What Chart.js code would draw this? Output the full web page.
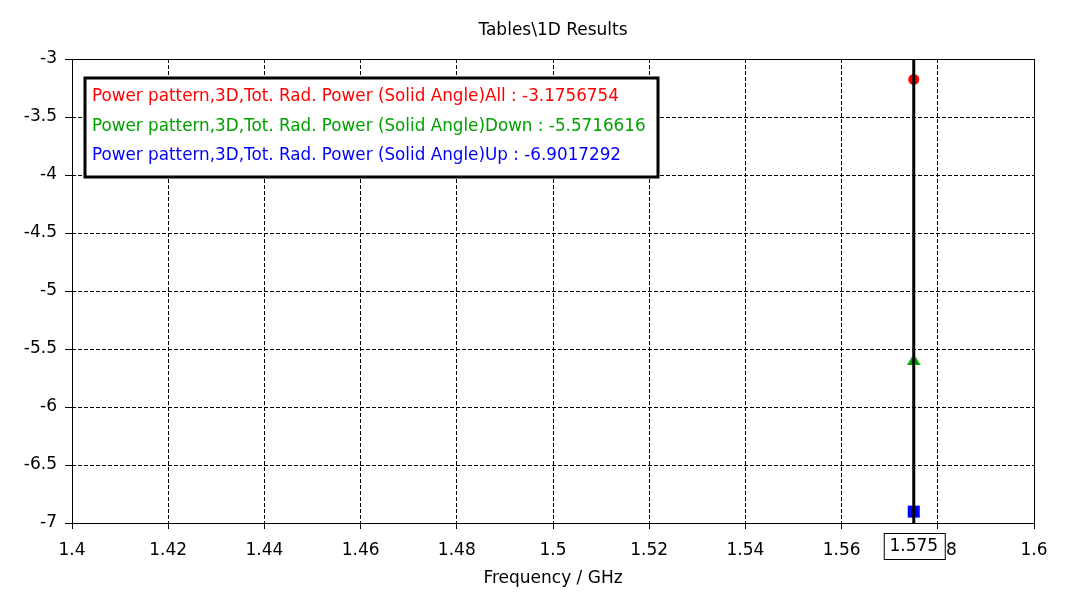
<!DOCTYPE html>
<html>
<head>
<meta charset="utf-8">
<script src="https://cdn.jsdelivr.net/npm/chart.js@4/dist/chart.umd.min.js"></script>
<style>
  html, body { margin: 0; padding: 0; background: #fff; }
  #wrap { width: 1078px; height: 593px; }
</style>
</head>
<body>
<div id="wrap"><canvas id="chart" width="1078" height="593"></canvas></div>
<script>
// values
const markerFreq = 1.575;
const seriesNames = [
  'Power pattern,3D,Tot. Rad. Power (Solid Angle)All',
  'Power pattern,3D,Tot. Rad. Power (Solid Angle)Down',
  'Power pattern,3D,Tot. Rad. Power (Solid Angle)Up'
];
const seriesValues = [-3.1756754, -5.5716616, -6.9017292];
const seriesColors = ['#ff0000', '#00a000', '#0000ff'];
const xRange = [1.4, 1.6];
const yRange = [-7, -3];

const FONT = '"DejaVu Sans", Verdana, sans-serif';
const FSIZE = 17;

// triangle marker sits a bit below its value in the original, so draw it as a small image
const triImg = document.createElement('canvas');
triImg.width = 14;
triImg.height = 16;
(function () {
  const c = triImg.getContext('2d');
  c.fillStyle = seriesColors[1];
  c.beginPath();
  c.moveTo(7, 4.5);
  c.lineTo(0, 16);
  c.lineTo(14, 16);
  c.closePath();
  c.fill();
})();

const seriesShapes = ['circle', triImg, 'rect'];
const seriesSizes = [5.5, 7.5, 8.5];

// one dataset per marker (drawn under the marker line)
const pointSets = seriesValues.map((v, i) => ({
  label: seriesNames[i],
  data: [{ x: markerFreq, y: v }],
  pointStyle: seriesShapes[i],
  pointRadius: seriesSizes[i],
  pointHoverRadius: seriesSizes[i],
  backgroundColor: seriesColors[i],
  borderColor: seriesColors[i],
  borderWidth: 0,
  showLine: false,
  order: 1
}));

// the vertical marker line
const markerLine = {
  label: 'marker',
  data: [{ x: markerFreq, y: yRange[0] }, { x: markerFreq, y: yRange[1] }],
  showLine: true,
  borderColor: '#000',
  borderWidth: 3,
  pointRadius: 0,
  order: 0
};

const framePlugin = {
  id: 'frame',
  afterDraw(chart) {
    const ctx = chart.ctx;
    const a = chart.chartArea;
    ctx.save();
    // plot frame
    ctx.strokeStyle = '#000';
    ctx.lineWidth = 1;
    ctx.strokeRect(a.left + 0.5, a.top + 0.5, a.right - a.left, a.bottom - a.top);

    // title
    ctx.fillStyle = '#000';
    ctx.font = FSIZE + 'px ' + FONT;
    ctx.textAlign = 'center';
    ctx.textBaseline = 'middle';
    ctx.fillText('Tables\\1D Results', (a.left + a.right) / 2, 31);

    // legend box
    const bx = a.left + 13, by = a.top + 19, bw = 573, bh = 99;
    ctx.fillStyle = '#fff';
    ctx.fillRect(bx, by, bw, bh);
    ctx.lineWidth = 3;
    ctx.strokeStyle = '#000';
    ctx.strokeRect(bx, by, bw, bh);
    ctx.font = '16.8px ' + FONT;
    ctx.textAlign = 'left';
    seriesNames.forEach((n, i) => {
      ctx.fillStyle = seriesColors[i];
      ctx.fillText(n + ' : ' + seriesValues[i].toFixed(7), bx + 7, by + 19 + i * 29.5);
    });

    // marker value box under the x axis
    const mx = chart.scales.x.getPixelForValue(markerFreq);
    ctx.font = FSIZE + 'px ' + FONT;
    ctx.fillStyle = '#fff';
    ctx.fillRect(mx - 30, a.bottom + 10, 61, 26);
    ctx.lineWidth = 1;
    ctx.strokeStyle = '#000';
    ctx.strokeRect(mx - 30 + 0.5, a.bottom + 10.5, 61, 26);
    ctx.fillStyle = '#000';
    ctx.textAlign = 'center';
    ctx.fillText(String(markerFreq), mx, a.bottom + 24);
    ctx.restore();
  }
};

new Chart(document.getElementById('chart'), {
  type: 'scatter',
  data: { datasets: [markerLine, ...pointSets] },
  options: {
    responsive: false,
    animation: false,
    layout: { padding: { top: 59, right: 44, left: 0, bottom: 0 } },
    plugins: {
      legend: { display: false },
      tooltip: { enabled: false }
    },
    scales: {
      x: {
        type: 'linear',
        min: xRange[0],
        max: xRange[1],
        afterFit(scale) { scale.height = 70; },
        ticks: {
          stepSize: 0.02,
          color: '#000',
          padding: 11,
          maxRotation: 0,
          font: { family: FONT, size: FSIZE },
          callback: v => String(+v.toFixed(2))
        },
        grid: { color: '#000', tickColor: '#000', tickLength: 6, lineWidth: 1 },
        border: { display: false, dash: [4, 2] },
        title: {
          display: true,
          text: 'Frequency / GHz',
          color: '#000',
          font: { family: FONT, size: FSIZE },
          padding: { top: 0, bottom: 4 }
        }
      },
      y: {
        min: yRange[0],
        max: yRange[1],
        afterFit(scale) { scale.width = 72; },
        ticks: {
          stepSize: 0.5,
          color: '#000',
          padding: 8,
          font: { family: FONT, size: FSIZE },
          callback: v => String(+v.toFixed(1))
        },
        grid: { color: '#000', tickColor: '#000', tickLength: 7, lineWidth: 1 },
        border: { display: false, dash: [4, 2] }
      }
    }
  },
  plugins: [framePlugin]
});
</script>
</body>
</html>
